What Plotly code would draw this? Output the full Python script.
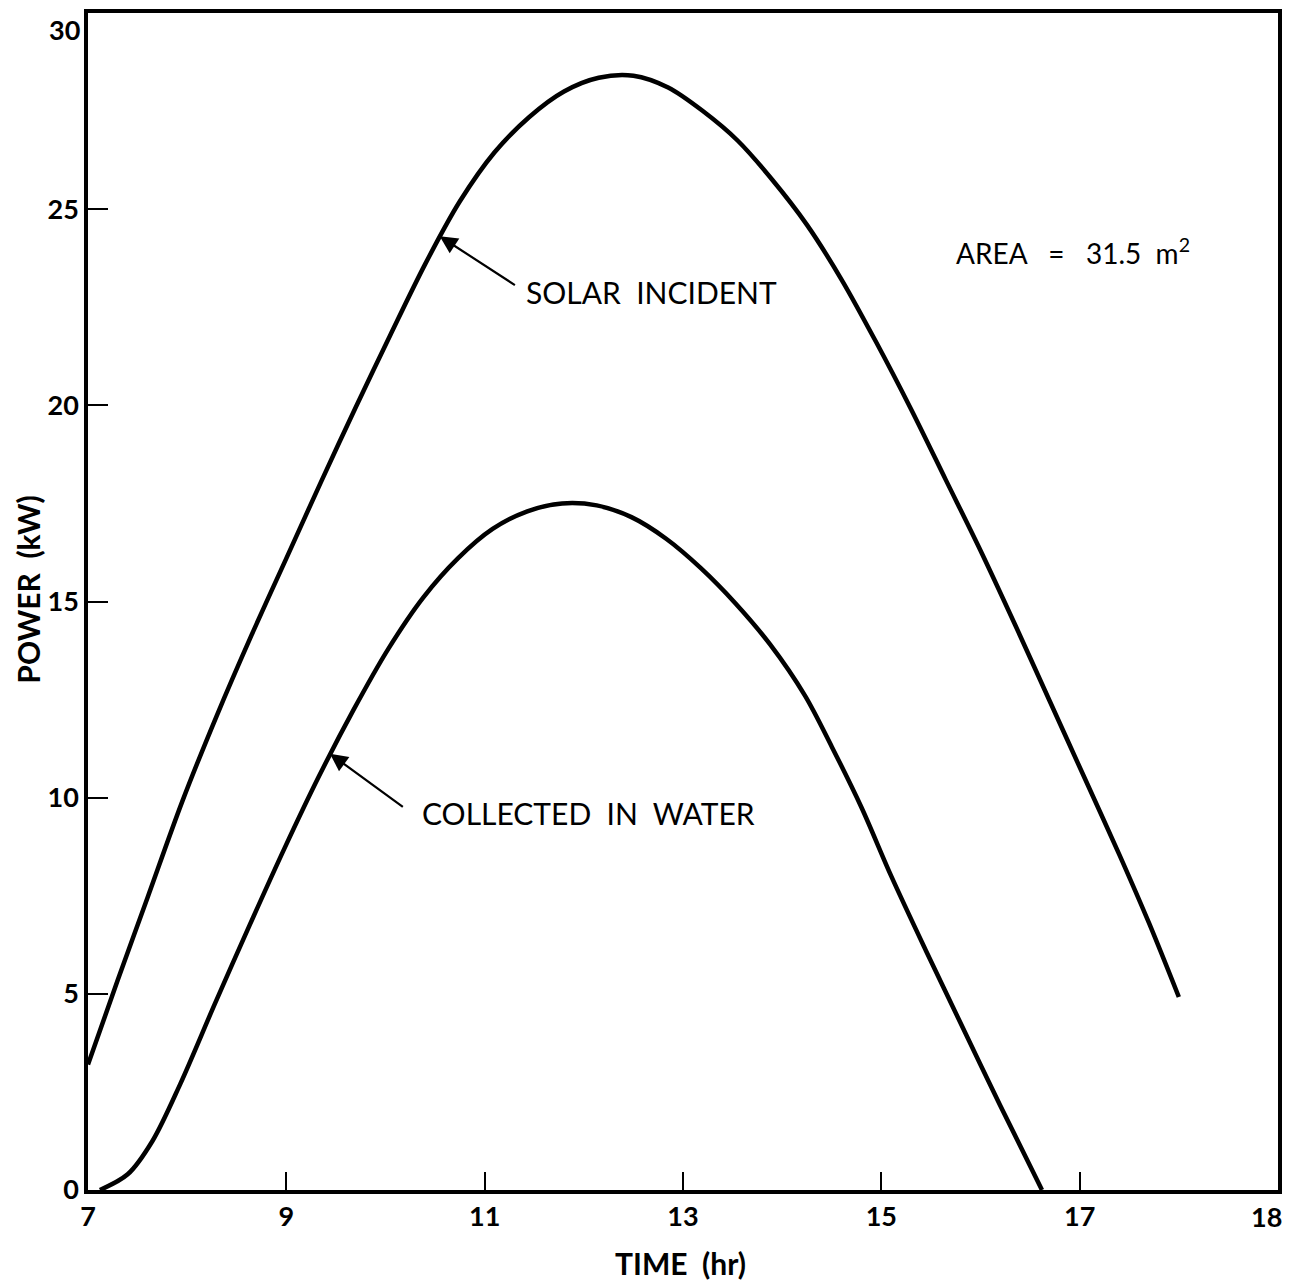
import plotly.graph_objects as go

# ---- data ----
solar_t = [7.0, 7.3, 7.6, 7.95, 8.3, 8.65, 9.0, 9.35, 9.7, 10.05, 10.4, 10.75, 11.1,
           11.45, 11.8, 12.15, 12.5, 12.85, 13.2, 13.55, 13.9, 14.25, 14.6, 14.95,
           15.3, 15.65, 16.0, 16.35, 16.7, 17.05, 17.4, 17.7, 18.0]
solar_p = [3.2, 5.35, 7.45, 9.9, 12.1, 14.15, 16.1, 18.05, 19.95, 21.8, 23.6, 25.2, 26.45,
           27.35, 28.0, 28.35, 28.4, 28.1, 27.5, 26.75, 25.75, 24.6, 23.2, 21.6,
           19.9, 18.1, 16.3, 14.4, 12.45, 10.5, 8.55, 6.8, 4.92]

water_t = [7.12, 7.4, 7.65, 7.93, 8.28, 8.63, 8.98, 9.33, 9.68, 10.03, 10.38, 10.73,
           11.08, 11.43, 11.78, 12.13, 12.48, 12.83, 13.18, 13.53, 13.88, 14.23, 14.5,
           14.8, 15.1, 15.45, 15.8, 16.2, 16.62]
water_p = [0.0, 0.4, 1.25, 2.7, 4.75, 6.75, 8.7, 10.55, 12.25, 13.8, 15.1, 16.1,
           16.85, 17.3, 17.5, 17.45, 17.15, 16.6, 15.85, 14.95, 13.9, 12.6, 11.3,
           9.75, 8.0, 6.1, 4.25, 2.15, 0.0]

x_tickvals = [7, 9, 11, 13, 15, 17, 19]
x_ticktext = ["7", "9", "11", "13", "15", "17", "18"]
y_tickvals = [0, 5, 10, 15, 20, 25, 30]
y_ticktext = ["0", "5", "10", "15", "20", "25", "30"]

solar_label = "SOLAR\u00a0\u00a0INCIDENT"
water_label = "COLLECTED\u00a0\u00a0IN\u00a0\u00a0WATER"
area_label = "AREA\u00a0\u00a0\u00a0=\u00a0\u00a0\u00a031.5\u00a0\u00a0m<sup>2</sup>"
x_title = "TIME\u00a0\u00a0(hr)"
y_title = "POWER\u00a0\u00a0(kW)"

FONT = "Lato"

fig = go.Figure()
for tt, pp in ((solar_t, solar_p), (water_t, water_p)):
    fig.add_trace(go.Scatter(x=tt, y=pp, mode="lines",
                             line=dict(color="black", width=4.5, shape="spline", smoothing=0.9),
                             showlegend=False, hoverinfo="skip"))

axis_common = dict(showline=True, linecolor="black", linewidth=3.5, mirror=True,
                   showgrid=False, zeroline=False, ticks="inside", tickcolor="black",
                   tickwidth=2, ticklabeloverflow="allow")
tick_font = dict(family=FONT, size=27, color="black", weight="bold")

# the last label on each axis sits slightly inside the frame in the reference,
# so those two are drawn as annotations anchored to the axis values
fig.update_xaxes(range=[x_tickvals[0], x_tickvals[-1]], tickmode="array",
                 tickvals=x_tickvals[:-1], ticktext=x_ticktext[:-1],
                 ticklen=18, tickfont=tick_font, **axis_common)
fig.update_yaxes(range=[y_tickvals[0], y_tickvals[-1]], tickmode="array",
                 tickvals=y_tickvals[:-1], ticktext=y_ticktext[:-1],
                 ticklen=20, tickfont=tick_font, **axis_common)

annotations = [
    dict(x=0, y=y_tickvals[-1], xref="paper", yref="y", text=y_ticktext[-1], showarrow=False,
         xanchor="right", yanchor="top", xshift=-6, yshift=2, font=tick_font),
    dict(x=x_tickvals[-1], y=0, xref="x", yref="paper", text=x_ticktext[-1], showarrow=False,
         xanchor="right", yanchor="top", xshift=6, yshift=-8, font=tick_font),
    # arrows
    dict(x=10.547, y=24.31, ax=11.32, ay=23.04, xref="x", yref="y", axref="x", ayref="y",
         showarrow=True, arrowhead=2, arrowsize=1.6, arrowwidth=2.2, arrowcolor="black", text=""),
    dict(x=9.44, y=11.12, ax=10.19, ay=9.74, xref="x", yref="y", axref="x", ayref="y",
         showarrow=True, arrowhead=2, arrowsize=1.6, arrowwidth=2.2, arrowcolor="black", text=""),
    # labels
    dict(x=11.40, y=22.88, xref="x", yref="y", text=solar_label, showarrow=False,
         xanchor="left", yanchor="middle", font=dict(family=FONT, size=30, color="black")),
    dict(x=10.345, y=9.62, xref="x", yref="y", text=water_label, showarrow=False,
         xanchor="left", yanchor="middle", font=dict(family=FONT, size=30, color="black")),
    dict(x=15.735, y=23.93, xref="x", yref="y", text=area_label, showarrow=False,
         xanchor="left", yanchor="middle", font=dict(family=FONT, size=28, color="black")),
    # axis titles
    dict(x=0.4975, y=-0.062, xref="paper", yref="paper", text=x_title, showarrow=False,
         xanchor="center", yanchor="middle",
         font=dict(family=FONT, size=30, color="black", weight="bold")),
    dict(x=-0.0505, y=0.51, xref="paper", yref="paper", text=y_title, showarrow=False,
         textangle=-90, xanchor="center", yanchor="middle",
         font=dict(family=FONT, size=30, color="black", weight="bold")),
]

fig.update_layout(width=1284, height=1278,
                  margin=dict(l=80, r=14, t=5, b=96, autoexpand=False),
                  paper_bgcolor="white", plot_bgcolor="white",
                  annotations=annotations)

fig.write_html("out.html")
